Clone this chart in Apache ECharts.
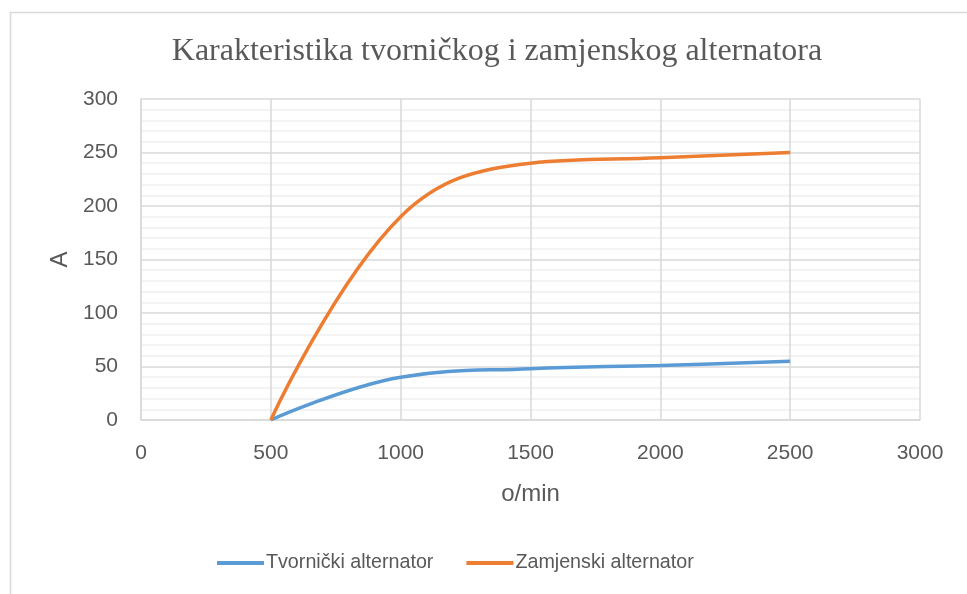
<!DOCTYPE html>
<html>
<head>
<meta charset="utf-8">
<script src="https://cdn.jsdelivr.net/npm/echarts@6/dist/echarts.min.js"></script>
<style>
html,body{margin:0;padding:0;background:#fff;}
#c{width:967px;height:594px;}
</style>
</head>
<body>
<div id="c"></div>
<script>
var titleText = 'Karakteristika tvorničkog i zamjenskog alternatora';
var xName = 'o/min';
var yName = 'A';
var seriesNames = ['Tvornički alternator', 'Zamjenski alternator'];
var rpm = [500, 1000, 1500, 2000, 2500];
var tvornicki = [0, 40, 48, 51, 55];
var zamjenski = [0, 190, 240, 245, 250];

function pairs(xs, ys){ return xs.map(function(x,i){ return [x, ys[i]]; }); }

var chart = echarts.init(document.getElementById('c'), null, {renderer:'canvas'});
var labelFont = 'Liberation Sans, Arial, sans-serif';
chart.setOption({
  animation:false,
  backgroundColor:'#fff',
  graphic:[{type:'rect', left:8, top:10, shape:{width:980, height:600}, style:{fill:'none', stroke:'#d9d9d9', lineWidth:1.5}, z:-1}],
  title:{
    text:titleText, left:492, top:31, textAlign:'center',
    textStyle:{fontFamily:'Liberation Serif, Times New Roman, serif', fontSize:32, fontWeight:'normal', color:'#595959'}
  },
  legend:{
    left:212, top:548, itemWidth:47, itemHeight:4, itemGap:33,
    icon:'rect',
    textStyle:{fontFamily:labelFont, fontSize:19.7, color:'#595959', padding:[0,0,0,-3]},
    data:seriesNames
  },
  grid:{left:141, right:47, top:99, bottom:174, containLabel:false},
  xAxis:{
    type:'value', min:0, max:3000, interval:500,
    name:xName, nameLocation:'middle', nameGap:62,
    nameTextStyle:{fontFamily:labelFont, fontSize:24, color:'#595959'},
    axisLine:{show:true, lineStyle:{color:'#d9d9d9', width:1.5}},
    axisTick:{show:false},
    axisLabel:{fontFamily:labelFont, fontSize:21, color:'#595959', margin:23, formatter:function(v){return String(v);}},
    splitLine:{show:true, lineStyle:{color:'#d9d9d9', width:1.5}}
  },
  yAxis:{
    type:'value', min:0, max:300, interval:50,
    name:yName, nameLocation:'middle', nameGap:69, nameRotate:90,
    nameTextStyle:{fontFamily:labelFont, fontSize:24, color:'#595959'},
    axisLine:{show:true, lineStyle:{color:'#d9d9d9', width:1.5}},
    axisTick:{show:false},
    axisLabel:{fontFamily:labelFont, fontSize:21, color:'#595959', margin:23, formatter:function(v){return String(v);}},
    splitLine:{show:true, lineStyle:{color:'#d9d9d9', width:1.5}},
    minorTick:{show:false, splitNumber:5},
    minorSplitLine:{show:true, lineStyle:{color:'#efefef', width:1.5}}
  },
  series:[
    {name:seriesNames[0], type:'line', data:pairs(rpm, tvornicki), smooth:0.4, showSymbol:false, symbol:'none',
     lineStyle:{color:'#5B9BD5', width:3.5}, itemStyle:{color:'#5B9BD5'}, z:3},
    {name:seriesNames[1], type:'line', data:pairs(rpm, zamjenski), smooth:0.4, showSymbol:false, symbol:'none',
     lineStyle:{color:'#ED7D31', width:3.5}, itemStyle:{color:'#ED7D31'}, z:4}
  ]
});
</script>
</body>
</html>
